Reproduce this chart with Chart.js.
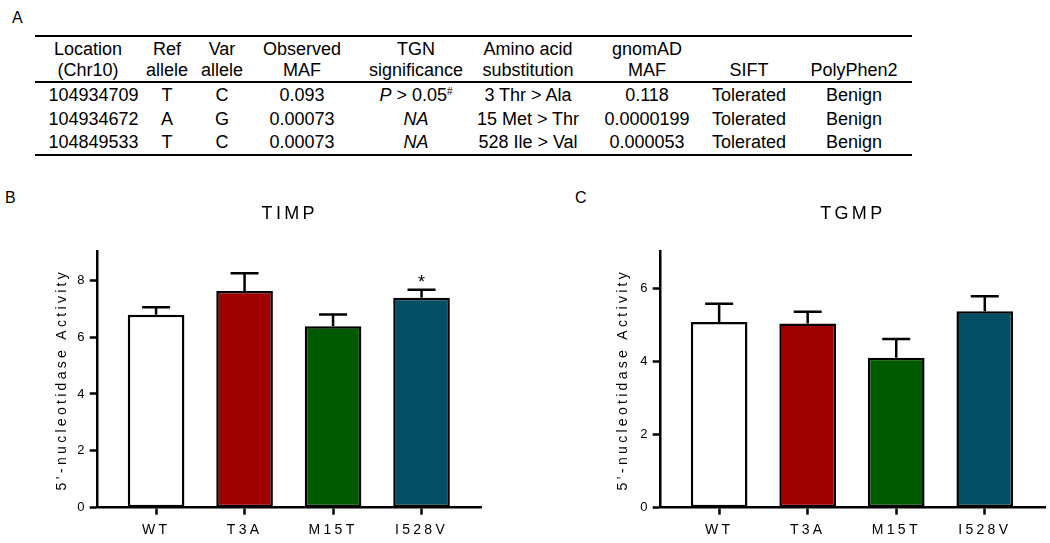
<!DOCTYPE html>
<html lang="en">
<head>
  <meta charset="UTF-8" />
  <title>Variants and 5'-nucleotidase activity</title>
  <script src="https://cdn.jsdelivr.net/npm/chart.js"></script>
  <style>
    * { box-sizing: border-box; }

    body {
      margin: 0;
      width: 1050px;
      height: 543px;
      overflow: hidden;
      position: relative;
      background: #fff;
      color: #000;
      font-family: 'Liberation Sans', Arial, sans-serif;
    }

    .panel { position: absolute; font-size: 16px; line-height: 1; }

    table {
      position: absolute;
      left: 35px;
      top: 35px;
      width: 877px;
      table-layout: fixed;
      border-collapse: separate;
      border-spacing: 0;
      border-top: 2px solid #000;
      border-bottom: 2px solid #000;
      font-size: 18px;
      text-align: center;
    }

    th {
      font-weight: normal;
      line-height: 21px;
      padding: 2px 0 0 0;
      vertical-align: bottom;
      border-bottom: 2px solid #000;
      white-space: nowrap;
    }

    td { line-height: 21.5px; height: 23px; padding: 2px 0 0 0; white-space: nowrap; }
    td sup { font-size: 10px; vertical-align: 6px; line-height: 0; }

    canvas { position: absolute; }
  </style>
</head>

<body>

  <div class="panel" style="left:12px; top:10px;">A</div>
  <div class="panel" style="left:5px; top:190px;">B</div>
  <div class="panel" style="left:575px; top:190px;">C</div>

  <table id="variants">
    <colgroup id="cols"></colgroup>
    <thead><tr id="head"></tr></thead>
    <tbody id="rows"></tbody>
  </table>

  <canvas id="timpChart" width="520" height="363" style="left:0; top:180px;"></canvas>
  <canvas id="tgmpChart" width="510" height="363" style="left:540px; top:180px;"></canvas>

  <script>
    // ---- table (panel A) ----
    const headers = [
      ['Location', '(Chr10)'], ['Ref', 'allele'], ['Var', 'allele'], ['Observed', 'MAF'],
      ['TGN', 'significance'], ['Amino acid', 'substitution'], ['gnomAD', 'MAF'], ['', 'SIFT'], ['', 'PolyPhen2']
    ];
    const locations = ['104934709', '104934672', '104849533'];
    const refAllele = ['T', 'A', 'T'];
    const varAllele = ['C', 'G', 'C'];
    const observedMaf = ['0.093', '0.00073', '0.00073'];
    const tgnSignificance = ['<i>P</i> &gt; 0.05<sup>#</sup>', '<i>NA</i>', '<i>NA</i>'];
    const substitution = ['3 Thr &gt; Ala', '15 Met &gt; Thr', '528 Ile &gt; Val'];
    const gnomadMaf = ['0.118', '0.0000199', '0.000053'];
    const sift = ['Tolerated', 'Tolerated', 'Tolerated'];
    const polyphen = ['Benign', 'Benign', 'Benign'];

    // ---- bar charts (panels B and C) ----
    const categories = ['WT', 'T3A', 'M15T', 'I528V'];
    const barColors = ['#ffffff', '#a00000', '#005a00', '#044f63'];

    const timpMean = [6.78, 7.62, 6.38, 7.38];
    const timpErr = [0.27, 0.62, 0.41, 0.28];
    const timpMarks = ['', '', '', '*'];

    const tgmpMean = [5.08, 5.04, 4.10, 5.37];
    const tgmpErr = [0.50, 0.32, 0.51, 0.41];
    const tgmpMarks = ['', '', '', ''];

    // column widths and a small centring nudge per column
    const colWidths = [92.5, 67, 67.5, 97, 113, 115.5, 110.5, 103.5, 110.5];
    const colShift = [6.75, 6, -6.25, -8.5, 0.5, -1.75, 4.25, -0.75, -2.75];
    const nudge = j => colShift[j] > 0
      ? `padding-left:${2 * colShift[j]}px`
      : `padding-right:${-2 * colShift[j]}px`;

    document.getElementById('cols').innerHTML =
      colWidths.map(w => `<col style="width:${w}px">`).join('');
    document.getElementById('head').innerHTML =
      headers.map((h, j) => `<th style="${nudge(j)}">${h[0] ? h[0] + '<br>' : ''}${h[1]}</th>`).join('');
    document.getElementById('rows').innerHTML = locations.map((loc, i) =>
      '<tr>' + [loc, refAllele[i], varAllele[i], observedMaf[i], tgnSignificance[i],
        substitution[i], gnomadMaf[i], sift[i], polyphen[i]]
        .map((c, j) => `<td style="${nudge(j)}">${c}</td>`).join('') + '</tr>'
    ).join('');

    Chart.defaults.font.family = "'Liberation Sans', Arial, sans-serif";
    Chart.defaults.color = '#000';

    // wide letter spacing like the exported figure
    const spacing = {
      id: 'spacing',
      beforeDraw(chart, args, opts) { chart.ctx.letterSpacing = opts.value; }
    };

    const errorBars = {
      id: 'errorBars',
      afterDatasetsDraw(chart, args, opts) {
        const ctx = chart.ctx;
        const y = chart.scales.y;
        chart.data.datasets.forEach((ds, di) => {
          chart.getDatasetMeta(di).data.forEach((bar, i) => {
            const top = y.getPixelForValue(ds.data[i].y + ds.errors[i]);
            ctx.save();
            ctx.strokeStyle = '#000';
            ctx.lineWidth = opts.width;
            ctx.beginPath();
            ctx.moveTo(bar.x, bar.y);
            ctx.lineTo(bar.x, top);
            ctx.moveTo(bar.x - opts.cap, top);
            ctx.lineTo(bar.x + opts.cap, top);
            ctx.stroke();
            if (ds.marks[i]) {
              ctx.letterSpacing = '0px';
              ctx.font = "18px 'Liberation Sans', Arial, sans-serif";
              ctx.fillStyle = '#000';
              ctx.textAlign = 'center';
              ctx.textBaseline = 'alphabetic';
              ctx.fillText(ds.marks[i], bar.x, top - 2);
            }
            ctx.restore();
          });
        });
      }
    };

    function makeChart(id, title, means, errs, marks, yMax, axisWidth, titlePad, rightPad) {
      return new Chart(document.getElementById(id), {
        type: 'bar',
        data: {
          datasets: [{
            data: means.map((v, i) => ({ x: i, y: v })),
            errors: errs,
            marks: marks,
            backgroundColor: barColors,
            borderColor: '#000',
            borderWidth: 2.5,
            borderSkipped: false,
            categoryPercentage: 0.8,
            barPercentage: 0.8
          }]
        },
        options: {
          responsive: false,
          animation: false,
          layout: { padding: { left: 0, right: rightPad, top: 0, bottom: 0 } },
          scales: {
            x: {
              type: 'linear',
              offset: false,
              min: -0.66,
              max: 3.68,
              afterFit: s => { s.height = 35.3; },
              border: { display: true, color: '#000', width: 2.5 },
              grid: { offset: false, drawOnChartArea: false, tickLength: 7, tickWidth: 2.5, tickColor: '#000' },
              ticks: {
                stepSize: 1,
                includeBounds: false,
                padding: 7,
                font: { size: 14 },
                callback: v => Number.isInteger(v) ? (categories[v] || '') : ''
              }
            },
            y: {
              min: 0,
              max: yMax,
              afterFit: s => { s.width = axisWidth; },
              border: { display: true, color: '#000', width: 2.5 },
              grid: { drawOnChartArea: false, tickLength: 8, tickWidth: 2.5, tickColor: '#000' },
              ticks: { stepSize: 2, includeBounds: false, padding: 2, font: { size: 13 } },
              title: {
                display: true,
                text: '5’-nucleotidase Activity',
                font: { size: 14 },
                padding: { top: titlePad, bottom: 0 }
              }
            }
          },
          plugins: {
            legend: { display: false },
            tooltip: { enabled: false },
            title: {
              display: true,
              text: title,
              fullSize: false,
              font: { size: 18, weight: 'normal' },
              color: '#000',
              padding: { top: 23.2, bottom: 26.9 }
            },
            spacing: { value: '3.3px' },
            errorBars: { width: 2.5, cap: 14 }
          }
        },
        plugins: [spacing, errorBars]
      });
    }

    makeChart('timpChart', 'TIMP', timpMean, timpErr, timpMarks, 9, 97.7, 53.3, 38.3);
    makeChart('tgmpChart', 'TGMP', tgmpMean, tgmpErr, tgmpMarks, 7, 120.7, 74.9, 5);
  </script>

</body>
</html>
